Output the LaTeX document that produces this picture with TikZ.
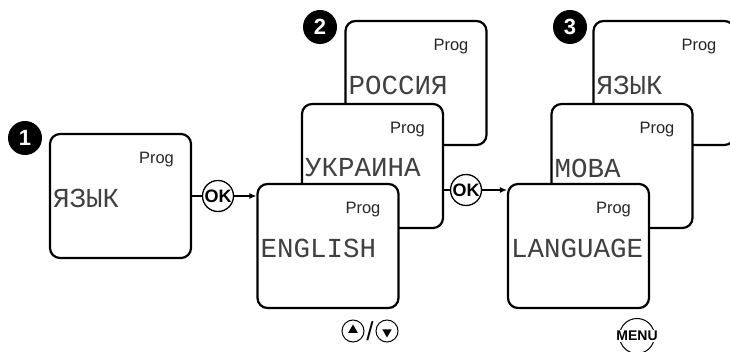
\documentclass[tikz,border=0pt]{standalone}
\usepackage{fontspec}
\setmainfont{Liberation Sans}
\newfontfamily\lcdfont{Liberation Mono}
\usetikzlibrary{positioning,shapes.geometric,arrows.meta}

\begin{document}
\begin{tikzpicture}[%
        x=1pt, y=-1pt,
        anzeige/.style={draw, line width=2.2pt, rounded corners=10pt, fill=white,
            minimum width=141pt, minimum height=124pt, inner sep=0pt},
        prog/.style={font=\fontsize{16.5}{16.5}\selectfont, inner sep=0pt, text=black!85},
        lcd/.style={font=\lcdfont\fontsize{27.5}{27.5}\selectfont, inner sep=0pt, text=black!75},
        nummer/.style={circle, fill=black, text=white, minimum size=34pt, inner sep=0pt,
            font=\fontsize{22}{22}\selectfont\bfseries},
        taste/.style={circle, draw, line width=1.3pt, fill=white, minimum size=31pt,
            inner sep=0pt, font=\fontsize{18}{18}\selectfont\bfseries},
        pfeiltaste/.style={circle, draw, line width=1pt, minimum size=22pt, inner sep=0pt},
        dreieck/.style={regular polygon, regular polygon sides=3, fill=black,
            minimum size=11pt, inner sep=0pt},
        verbindung/.style={line width=1.2pt},
        >={Latex[length=7pt,width=6pt]} % Pfeilspitzen
        ]
            \useasboundingbox (0,0) rectangle (730,352);
            \clip (0,0) rectangle (730,352);

            % Schritt 1
            \node[anzeige] (a1) at (120.5,196) {};
            \node[prog, below left=19pt and 18pt of a1.north east] (a1-p) {Prog};
            \node[lcd, right=4pt of a1.west, yshift=-2pt] (a1-t) {ЯЗЫК};

            % Schritt 2 und 3 (hinten zuerst)
            \foreach \n/\x/\y/\t in {a2h/416/83/РОССИЯ, a2m/372.5/166/УКРАИНА,
                                     a2v/328/246/ENGLISH, a3h/664/83/ЯЗЫК,
                                     a3m/622/166/МОВА, a3v/578.5/246/LANGUAGE}
            {
                \node[anzeige] (\n) at (\x,\y) {};
                \node[prog, below left=19pt and 19pt of \n.north east] (\n-p) {Prog};
                \node[lcd, right=4pt of \n.west, yshift=-2pt] (\n-t) {\t};
            }

            % Nummern
            \node[nummer] (n1) at (25,138) {1};
            \node[nummer] (n2) at (320,27) {2};
            \node[nummer] (n3) at (570,27) {3};

            % Tasten
            \node[taste] (ok1) at (218,196) {OK};
            \node[taste] (ok2) at (466,190) {OK};

            \node[pfeiltaste] (auf) at (353,331) {};
            \node[pfeiltaste] (ab) at (387,331) {};
            \node[dreieck] (auf-d) at ([yshift=1pt]auf) {};
            \node[dreieck, shape border rotate=180] (ab-d) at ([yshift=-1pt]ab) {};
            \node[font=\fontsize{26}{26}\selectfont, inner sep=0pt] (strich) at (370,331) {/};

            \node[circle, draw, line width=1pt, minimum size=35pt] (menu) at (637,336) {};
            \node[fill=white, inner sep=1pt, font=\fontsize{14}{14}\selectfont\bfseries]
                (menu-t) at (menu) {MENU};

            % Verbindungen
            \draw[verbindung] (a1) -- (ok1);
            \draw[verbindung, ->] (ok1) -- (ok1 -| a2v.west);
            \draw[verbindung] (a2m.east |- ok2) -- (ok2);
            \draw[verbindung, ->] (ok2) -- (ok2 -| a3v.west);

        \end{tikzpicture}
\end{document}
